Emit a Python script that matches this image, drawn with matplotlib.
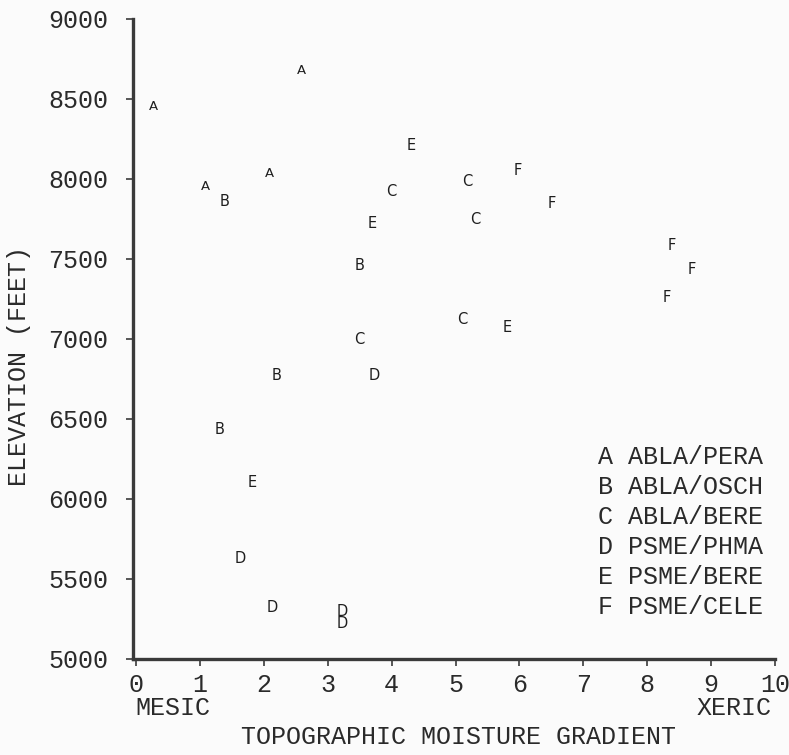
import matplotlib
matplotlib.use("Agg")
import matplotlib.pyplot as plt

# habitat type of each stand, with its moisture score and elevation
community = ["A", "A", "A", "A",
             "B", "B", "B", "B",
             "C", "C", "C", "C", "C",
             "D", "D", "D", "D", "D",
             "E", "E", "E", "E",
             "F", "F", "F", "F", "F"]
moisture = [0.27, 1.09, 2.09, 2.59,
            1.39, 3.49, 2.19, 1.30,
            4.00, 3.49, 5.19, 5.31, 5.11,
            3.73, 1.63, 2.13, 3.23, 3.23,
            4.31, 3.70, 5.81, 1.81,
            5.98, 6.50, 8.39, 8.69, 8.30]
elevation = [8450, 7950, 8037, 8681,
             7862, 7462, 6775, 6437,
             7919, 6994, 7987, 7744, 7125,
             6775, 5631, 5319, 5300, 5225,
             8212, 7719, 7069, 6106,
             8056, 7850, 7587, 7437, 7262]

legend_codes = ["A", "B", "C", "D", "E", "F"]
legend_names = ["ABLA/PERA", "ABLA/OSCH", "ABLA/BERE",
                "PSME/PHMA", "PSME/BERE", "PSME/CELE"]
x_ticks = [0, 1, 2, 3, 4, 5, 6, 7, 8, 9, 10]
y_ticks = [5000, 5500, 6000, 6500, 7000, 7500, 8000, 8500, 9000]

ink = "#2a2a2a"
mono = "Liberation Mono"
fs = 18

fig = plt.figure(figsize=(7.89, 7.55), dpi=100, facecolor="#fbfbfb")
ax = fig.add_axes([133 / 789, 96 / 755, 642 / 789, 640 / 755])
ax.set_facecolor("#fbfbfb")
ax.set_xlim(-0.05, 10)
ax.set_ylim(5000, 9000)

for code, mx, el in zip(community, moisture, elevation):
    ax.text(mx, el, code, ha="center", va="center", color="#1e1e1e",
            fontsize=9.5 if code == "A" else 10.5, family="DejaVu Sans")

ax.spines["top"].set_visible(False)
ax.spines["right"].set_visible(False)
for s in ("left", "bottom"):
    ax.spines[s].set_linewidth(2.4)
    ax.spines[s].set_color("#3a3a3a")

ax.set_xticks(x_ticks)
ax.set_yticks(y_ticks)
ax.set_xticklabels([str(t) for t in x_ticks])
ax.set_yticklabels([str(t) for t in y_ticks])
ax.tick_params(axis="both", direction="out", length=5, width=1.2,
               colors="#3a3a3a", labelcolor=ink)
ax.tick_params(axis="y", pad=13, labelsize=fs)
ax.tick_params(axis="x", pad=5, labelsize=fs)
for lbl in ax.get_xticklabels() + ax.get_yticklabels():
    lbl.set_family(mono)

ax.text(0.003, -0.076, "MESIC", transform=ax.transAxes, ha="left", va="center",
        fontsize=fs, family=mono, color=ink)
ax.text(0.995, -0.076, "XERIC", transform=ax.transAxes, ha="right", va="center",
        fontsize=fs, family=mono, color=ink)

for i, (code, name) in enumerate(zip(legend_codes, legend_names)):
    ax.text(0.724, 0.3156 - i * 0.0469, code + " " + name, transform=ax.transAxes,
            ha="left", va="center", fontsize=fs, family=mono, color=ink)

fig.text(19 / 789, 1 - 366 / 755, "ELEVATION (FEET)", rotation=90,
         ha="center", va="center", fontsize=fs, family=mono, color=ink)
fig.text(458 / 789, 1 - 737 / 755, "TOPOGRAPHIC MOISTURE GRADIENT",
         ha="center", va="center", fontsize=fs, family=mono, color=ink)

fig.savefig("out.png", dpi=100, facecolor=fig.get_facecolor())
